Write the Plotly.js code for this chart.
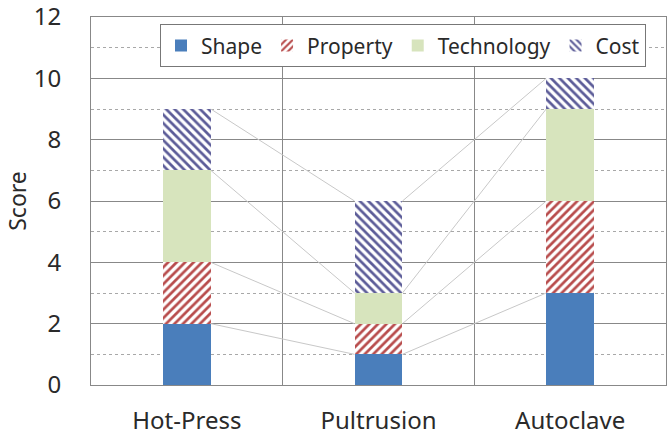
<!DOCTYPE html>
<html><head><meta charset="utf-8">
<script src="https://cdn.plot.ly/plotly-3.0.1.min.js"></script>
<style>html,body{margin:0;padding:0;background:#fff;}#c{width:668px;height:435px;}</style>
</head><body><div id="c"></div>
<script>
var categories = ["Hot-Press", "Pultrusion", "Autoclave"];
var seriesNames = ["Shape", "Property", "Technology", "Cost"];
var shapeVals = [2, 1, 3];
var propertyVals = [2, 1, 3];
var technologyVals = [3, 1, 3];
var costVals = [2, 3, 1];
var yTicks = [0, 2, 4, 6, 8, 10, 12];

var xs = categories.map(function(_, i){ return i; });
var BW = 0.25;
var series = [shapeVals, propertyVals, technologyVals, costVals];
var styles = [
  {color: '#4a7ebb'},
  {color: '#ffffff', pattern: {shape: '/', fgcolor: '#b84c4c', bgcolor: '#ffffff', fgopacity: 1, size: 6, solidity: 0.45, fillmode: 'replace'}},
  {color: '#d7e4bd'},
  {color: '#ffffff', pattern: {shape: '\\', fgcolor: '#5c5c98', bgcolor: '#ffffff', fgopacity: 1, size: 6, solidity: 0.45, fillmode: 'replace'}}
];

var data = [];
var cum = categories.map(function(){ return 0; });
series.forEach(function(vals){
  var tops = cum.map(function(c, i){ return c + vals[i]; });
  for (var i = 0; i < categories.length - 1; i++) {
    data.push({type: 'scatter', mode: 'lines', x: [xs[i] + BW/2, xs[i+1] - BW/2], y: [tops[i], tops[i+1]],
      line: {color: '#c8c8c8', width: 1}, showlegend: false, hoverinfo: 'skip'});
  }
  cum = tops;
});
series.forEach(function(vals, k){
  data.push({type: 'bar', name: seriesNames[k], x: xs, y: vals, width: BW,
    marker: {color: styles[k].color, pattern: styles[k].pattern, line: {width: 0}}});
});

var layout = {
  width: 668, height: 435,
  margin: {l: 91, r: 2, t: 17, b: 50},
  paper_bgcolor: '#fff', plot_bgcolor: '#fff',
  barmode: 'stack',
  font: {family: 'Noto Sans, sans-serif', color: '#2a2a2a'},
  showlegend: true,
  legend: {orientation: 'h', x: 0.12, y: 0.98, xanchor: 'left', yanchor: 'top',
    bgcolor: '#fff', bordercolor: '#777', borderwidth: 1, font: {size: 21, color: '#2a2a2a'},
    traceorder: 'normal', itemwidth: 30},
  xaxis: {range: [-0.5, 2.5], tickmode: 'array', tickvals: xs, ticktext: categories,
    showgrid: false, zeroline: false, showline: true, linecolor: '#888', linewidth: 1, mirror: true,
    ticks: '', tickfont: {size: 24, color: '#2a2a2a'}, ticklabelstandoff: 14,
    minor: {tickmode: 'array', tickvals: [0.5, 1.5], showgrid: true, gridcolor: '#888', gridwidth: 1, ticks: ''}},
  yaxis: {range: [0, 12], tickmode: 'array', tickvals: yTicks, showgrid: true, gridcolor: '#888', gridwidth: 1,
    zeroline: false, showline: true, linecolor: '#888', linewidth: 1, mirror: true, ticks: '',
    tickfont: {size: 24, color: '#2a2a2a'}, ticklabelstandoff: 24, ticklabeloverflow: 'allow',
    title: {text: 'Score', font: {size: 23, color: '#2a2a2a'}, standoff: 0},
    minor: {dtick: 1, showgrid: true, gridcolor: '#a8a8a8', griddash: '3px,3px', gridwidth: 1}}
};
Plotly.newPlot('c', data, layout, {displayModeBar: false, staticPlot: true});
</script></body></html>
